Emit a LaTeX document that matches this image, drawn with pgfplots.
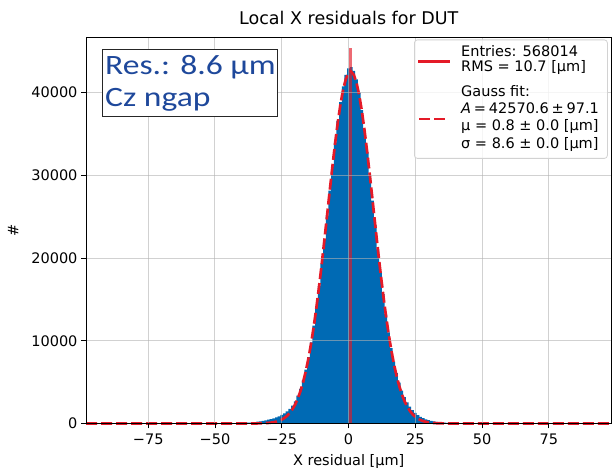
\documentclass[border=0pt]{standalone}
\usepackage{pgfplots}
\pgfplotsset{compat=1.18}
\usepackage{fontspec}
\setmainfont{DejaVu Sans}
\newfontfamily\calib[FakeStretch=1.2]{Carlito}
\definecolor{histblue}{RGB}{0,106,180}
\definecolor{fitred}{RGB}{228,26,40}
\definecolor{resblue}{RGB}{30,72,155}
\begin{document}
\begin{tikzpicture}
\useasboundingbox (0,0) rectangle (612pt,470pt);
\begin{axis}[
  at={(86pt,46.5pt)}, anchor=south west,
  width=525.5pt, height=386.5pt, scale only axis,
  xmin=-98.3, xmax=98.5, ymin=0, ymax=46735,
  xtick={-75,-50,-25,0,25,50,75},
  xticklabels={−75,−50,−25,0,25,50,75},
  ytick={0,10000,20000,30000,40000},
  yticklabels={0,10000,20000,30000,40000},
  scaled y ticks=false,
  tick align=outside, major tick length=5pt,
  tick pos=left,
  tick style={black, line width=0.8pt},
  grid=major, grid style={gray!60, opacity=0.6, line width=1pt},
  axis on top,
  axis line style={black, line width=0.8pt},
  ticklabel style={font=\fontsize{14.5pt}{17pt}\selectfont},
  xticklabel style={yshift=-1.5pt},
  xlabel={X residual [µm]}, ylabel={\#},
  label style={font=\fontsize{14.5pt}{17pt}\selectfont},
  xlabel style={yshift=-3pt},
  ylabel style={yshift=6pt},
  title={Local X residuals for DUT},
  title style={font=\fontsize{17.5pt}{20pt}\selectfont, yshift=3pt},
  clip=false,
]
\addplot[const plot, fill=histblue, draw=none] coordinates {
(-50.5,8) (-49.5,10) (-48.5,12) (-47.5,15) (-46.5,18) (-45.5,22) (-44.5,27) (-43.5,33) (-42.5,40) (-41.5,50)
(-40.5,62) (-39.5,77) (-38.5,95) (-37.5,118) (-36.5,145) (-35.5,180) (-34.5,222) (-33.5,270) (-32.5,325) (-31.5,390)
(-30.5,460) (-29.5,540) (-28.5,630) (-27.5,740) (-26.5,870) (-25.5,1030) (-24.5,1230) (-23.5,1470) (-22.5,1780) (-21.5,2170)
(-20.5,2690) (-19.5,3360) (-18.5,4200) (-17.5,5250) (-16.5,6520) (-15.5,8040) (-14.5,9810) (-13.5,11840) (-12.5,14110) (-11.5,16620)
(-10.5,19330) (-9.5,22200) (-8.5,25150) (-7.5,28150) (-6.5,31100) (-5.5,33950) (-4.5,36550) (-3.5,38850) (-2.5,40750) (-1.5,42150)
(-0.5,42950) (0.5,43100) (1.5,42650) (2.5,41600) (3.5,40000) (4.5,37900) (5.5,35450) (6.5,32780) (7.5,29920) (8.5,26960)
(9.5,23980) (10.5,21060) (11.5,18260) (12.5,15630) (13.5,13210) (14.5,11030) (15.5,9120) (16.5,7480) (17.5,6090) (18.5,4930)
(19.5,3970) (20.5,3180) (21.5,2540) (22.5,2030) (23.5,1610) (24.5,1280) (25.5,1020) (26.5,810) (27.5,640) (28.5,510)
(29.5,405) (30.5,320) (31.5,255) (32.5,200) (33.5,160) (34.5,125) (35.5,100) (36.5,80) (37.5,63) (38.5,50)
(39.5,40) (40.5,32) (41.5,26) (42.5,21) (43.5,17) (44.5,14) (45.5,12) (46.5,10) (47.5,9) (48.5,8) (49.5,7) (50.5,0)
} \closedcycle;
\addplot[fitred, line width=2.7pt, dash pattern=on 11pt off 4pt] coordinates {
(-98.3,0) (-50,0) (-40,0.4) (-38,1.7) (-36,4.5) (-34,12) (-32,30) (-31,46) (-30,70) (-29,105) (-28,156) (-27,229)
(-26,331) (-25,473) (-24,666) (-23,925) (-22,1267) (-21,1713) (-20,2285) (-19,3006) (-18,3903) (-17,4998) (-16,6315)
(-15,7873) (-14,9683) (-13,11748) (-12,14063) (-11,16607) (-10,19349) (-9,22240) (-8,25221) (-7,28215) (-6,31142)
(-5,33911) (-4,36430) (-3,38611) (-2,40373) (-1,41648) (0,42386) (0.8,42570) (1,42559) (2,42157) (3,41200) (4,39723)
(5,37785) (6,35458) (7,32828) (8,29985) (9,27022) (10,24022) (11,21068) (12,18231) (13,15564) (14,13108) (15,10891)
(16,8928) (17,7220) (18,5761) (19,4535) (20,3521) (21,2698) (22,2040) (23,1521) (24,1119) (25,812) (26,582) (27,411)
(28,286) (29,197) (30,134) (31,89) (32,59) (33,38) (34,25) (36,10) (38,4) (40,1) (50,0) (98.5,0)
};
\addplot[fitred, opacity=0.65, line width=2.5pt] coordinates {(0.8,0) (0.8,45400)};
\end{axis}
% legend (frame, samples, text)
\node[draw=gray!35, line width=0.8pt, rounded corners=3pt, fill=white, fill opacity=0.8,
  minimum width=193pt, minimum height=118.5pt, anchor=north west, inner sep=0pt] at (414pt,430.5pt) {};
\draw[fitred, line width=2.5pt] (418pt,408.3pt) -- (450pt,408.3pt);
\draw[fitred, line width=2.7pt, dash pattern=on 11pt off 4pt] (419pt,351pt) -- (445pt,351pt);
\begin{scope}[every node/.style={anchor=base west, inner sep=0pt, font=\fontsize{14.5pt}{16.5pt}\selectfont}]
\node at (461pt,413.7pt) {Entries: 568014};
\node at (461pt,398pt) {RMS = 10.7 [µm]};
\node at (461pt,373.7pt) {Gauss fit:};
\node at (461pt,356.4pt) {\textit{A}\hspace{2.8pt}=\hspace{2.8pt}42570.6\hspace{2.8pt}±\hspace{2.8pt}97.1};
\node at (461pt,339.1pt) {µ = 0.8 ± 0.0 [µm]};
\node at (461pt,321.7pt) {σ = 8.6 ± 0.0 [µm]};
\end{scope}
% annotation box
\draw[black!85, line width=1.3pt, fill=white] (102.3pt,353.3pt) rectangle (277.7pt,420.7pt);
\node[anchor=base west, inner sep=0pt, text=resblue, font=\calib\fontsize{28pt}{32pt}\selectfont] at (105pt,395pt) {Res.: 8.6 µm};
\node[anchor=base west, inner sep=0pt, text=resblue, font=\calib\fontsize{28pt}{32pt}\selectfont] at (105pt,363.3pt) {Cz ngap};
\end{tikzpicture}
\end{document}
